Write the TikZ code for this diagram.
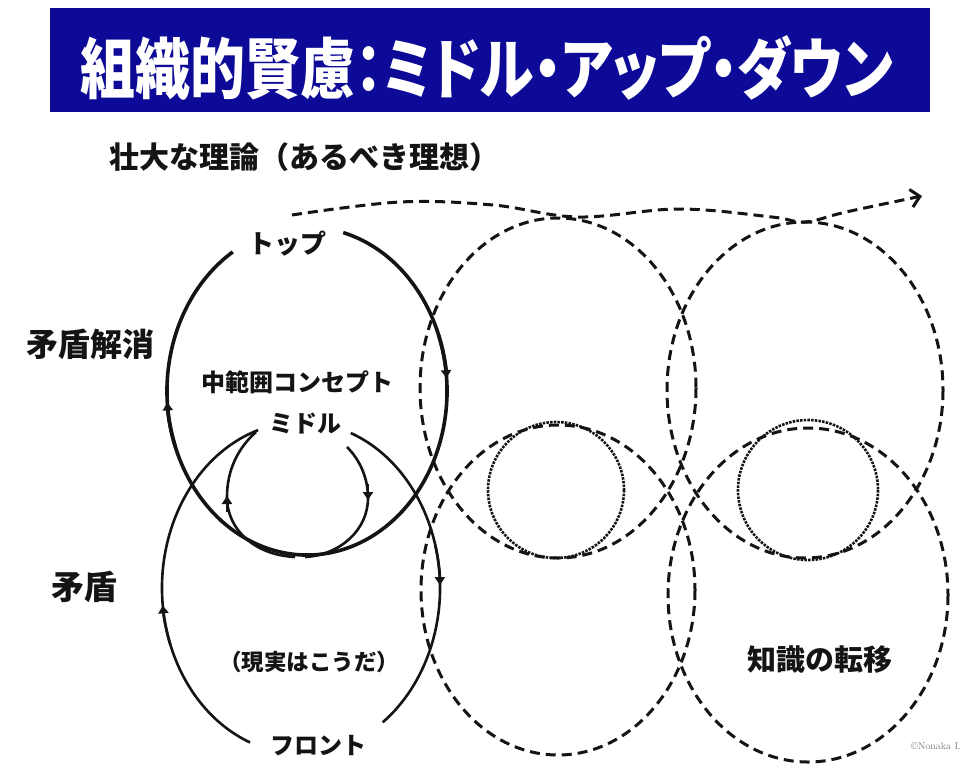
\documentclass[tikz,border=0pt]{standalone}
\usepackage{fontspec}
\usepackage{graphicx}
\newfontfamily\jp{Noto Sans CJK JP}
\newfontfamily\jpt[RawFeature=+palt]{Noto Sans CJK JP}
\usetikzlibrary{arrows.meta}
\definecolor{titleblue}{RGB}{12,10,150}
\definecolor{ink}{RGB}{20,20,20}
\begin{document}
\begin{tikzpicture}[x=1pt,y=-1pt,
  lbl/.style={inner sep=0pt, text=ink, font=\jp\bfseries\fontsize{#1}{#1}\selectfont},
  solidA/.style={draw=ink, line width=3.6pt},
  solidB/.style={draw=ink, line width=2.6pt},
  dashline/.style={draw=ink, line width=3pt, dash pattern=on 10pt off 6pt},
  dotline/.style={draw=ink, line width=2.6pt, dash pattern=on 2.5pt off 1.2pt},
  tick/.style={-{Triangle[length=8pt,width=10pt]}},
]
\useasboundingbox (0,0) rectangle (979,766);
\fill[white] (0,0) rectangle (979,766);

% title
\node[fill=titleblue, minimum width=880pt, minimum height=104pt, inner sep=0pt] (titlebox) at (490,60) {};
\node[text=white, inner sep=0pt] (title) at (487,68) {\resizebox{812pt}{58pt}{\jpt\bfseries 組織的賢慮：ミドル・アップ・ダウン}};

% labels
\node[lbl=30] (ideal) at (304,157) {壮大な理論（あるべき理想）};
\node[lbl=32] (kaisho) at (90,344) {矛盾解消};
\node[lbl=26] (top) at (287,244) {トップ};
\node[lbl=24] (concept) at (297,382) {中範囲コンセプト};
\node[lbl=24] (middle) at (305,424) {ミドル};
\node[lbl=33] (mujun) at (84,587) {矛盾};
\node[lbl=22.5] (genjitsu) at (309,662) {（現実はこうだ）};
\node[lbl=24] (front) at (318,746) {フロント};
\node[lbl=29] (transfer) at (820,660) {知識の転移};
\node[text=gray, inner sep=0pt, font=\fontsize{10}{10}\selectfont] (copy) at (936,746) {\textcopyright Nonaka I.};

% top solid ellipse
\draw[solidA] (307,391) ++(-75:140 and 164) arc[start angle=-75, end angle=238, x radius=140, y radius=164];
\draw[solidA, tick] (307,391) ++(-20:140 and 164) arc[start angle=-20, end angle=-4.5, x radius=140, y radius=164];
\draw[solidA, tick] (307,391) ++(160:140 and 164) arc[start angle=160, end angle=176, x radius=140, y radius=164];

% bottom solid ellipse
\draw[solidB] (301,588) ++(111.5:139 and 166) arc[start angle=111.5, end angle=252, x radius=139, y radius=166];
\draw[solidB] (301,588) ++(-69:139 and 166) arc[start angle=-69, end angle=54, x radius=139, y radius=166];
\draw[solidB, tick] (301,588) ++(160:139 and 166) arc[start angle=160, end angle=174, x radius=139, y radius=166];
\draw[solidB, tick] (301,588) ++(-15:139 and 166) arc[start angle=-15, end angle=-1, x radius=139, y radius=166];

% inner loop
\draw[solidB] (256,432) .. controls (238,448) and (227,470) .. (227,497) .. controls (227,530) and (255,555) .. (295,557);
\draw[solidB] (347,447) .. controls (360,460) and (368,478) .. (368,498) .. controls (368,530) and (340,555) .. (305,557);
\draw[solidB, tick] (227,512) -- (227,496);
\draw[solidB, tick] (368,484) -- (368,500);

% dashed ellipses
\draw[dashline] (558,388) ellipse[x radius=138, y radius=170];
\draw[dashline] (558,590) ellipse[x radius=137, y radius=165];
\draw[dashline] (805,390) ellipse[x radius=138, y radius=168];
\draw[dashline] (808,595) ellipse[x radius=140, y radius=167];
\draw[dotline] (556,490) circle[radius=68];
\draw[dotline] (808,490) circle[radius=70];

% top dashed flow
\coordinate (ds) at (292,215);
\coordinate (de) at (922,196);
\draw[dashline, -{Straight Barb[length=9pt,width=18pt]}] plot[smooth, tension=0.6] coordinates {(ds) (400,202) (493,205) (578,217) (679,209) (772,217) (805,222) (846,212) (de)};
\end{tikzpicture}
\end{document}
